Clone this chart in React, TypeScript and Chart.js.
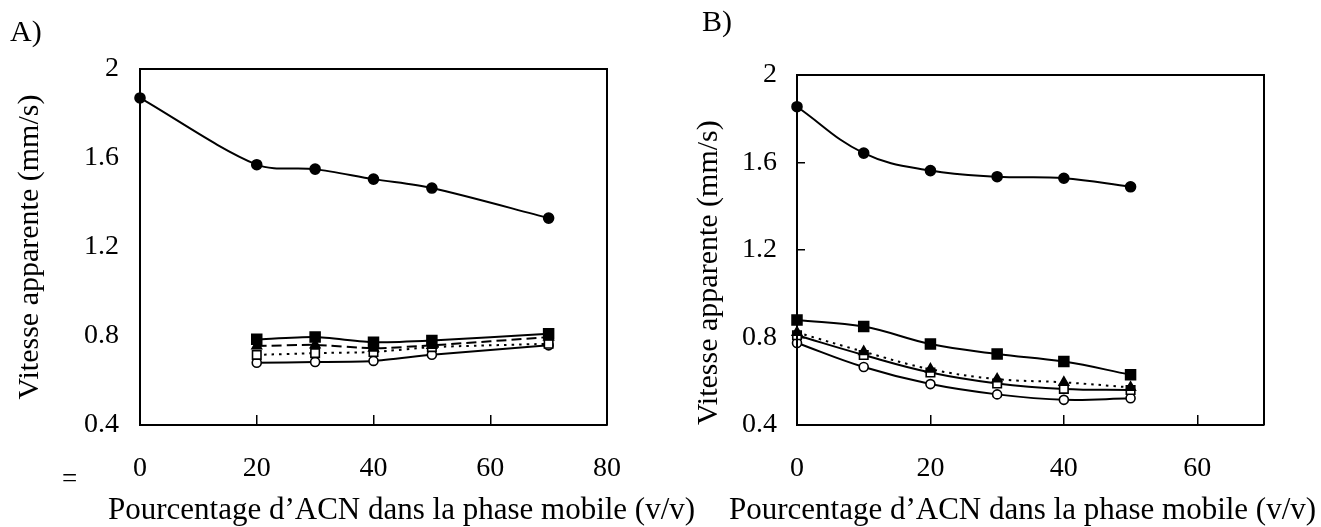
import React, { useEffect, useRef } from 'react';
import { Chart, registerables } from 'chart.js';

Chart.register(...registerables);

const FONT = '"Liberation Serif", "Times New Roman", Times, serif';

// ---------- Panel A data ----------
const xA = [0, 20, 30, 40, 50, 70];
const xALow = [20, 30, 40, 50, 70];
const aFilledCircle = [1.87, 1.57, 1.55, 1.505, 1.465, 1.33];
const aFilledSquare = [0.785, 0.795, 0.772, 0.78, 0.81];
const aFilledTriangle = [0.755, 0.76, 0.745, 0.758, 0.795];
const aOpenSquare = [0.715, 0.723, 0.728, 0.75, 0.765];
const aOpenCircle = [0.68, 0.683, 0.688, 0.716, 0.758];
const xTicksA = [0, 20, 40, 60, 80];
const xTickLabelsA = ['0', '20', '40', '60', '80'];

// ---------- Panel B data ----------
const xB = [0, 10, 20, 30, 40, 50];
const bFilledCircle = [1.855, 1.643, 1.563, 1.535, 1.528, 1.489];
const bFilledSquare = [0.88, 0.85, 0.77, 0.725, 0.69, 0.63];
const bFilledTriangle = [0.823, 0.735, 0.655, 0.61, 0.595, 0.572];
const bOpenSquare = [0.81, 0.72, 0.64, 0.59, 0.565, 0.56];
const bOpenCircle = [0.775, 0.665, 0.587, 0.54, 0.515, 0.522];
const xTicksB = [0, 20, 40, 60];
const xTickLabelsB = ['0', '20', '40', '60'];

// ---------- shared ----------
const yTickValues = [0.4, 0.8, 1.2, 1.6, 2.0];
const yTickLabels = ['0.4', '0.8', '1.2', '1.6', '2'];
const xTitle = 'Pourcentage d’ACN dans la phase mobile (v/v)';
const yTitle = 'Vitesse apparente (mm/s)';

const W = 1321;
const H = 527;

const framePlugin = {
  id: 'frameAndText',
  afterDraw(chart: any, _args: any, opts: any) {
    const { ctx, chartArea } = chart;
    const { left, right, top, bottom } = chartArea;
    ctx.save();
    ctx.strokeStyle = '#000';
    ctx.lineWidth = 2;
    ctx.beginPath();
    ctx.moveTo(left, bottom);
    ctx.lineTo(left, top);
    ctx.lineTo(right, top);
    ctx.lineTo(right, bottom);
    ctx.stroke();
    (opts.texts || []).forEach((t: any) => {
      ctx.font = `${t.size}px ${FONT}`;
      ctx.fillStyle = '#000';
      ctx.textAlign = 'left';
      ctx.textBaseline = 'alphabetic';
      ctx.fillText(t.text, t.x, t.y);
    });
    ctx.restore();
  },
};

function series(xs: number[], ys: number[], style: any) {
  return {
    data: xs.map((x, i) => ({ x, y: ys[i] })),
    borderColor: '#000',
    borderWidth: 2,
    pointBorderColor: '#000',
    pointBorderWidth: 1.6,
    clip: false,
    ...style,
  };
}

const filledCircle = { pointStyle: 'circle', pointRadius: 5, pointBackgroundColor: '#000' };
const filledSquare = { pointStyle: 'rect', pointRadius: 7, pointBackgroundColor: '#000' };
const filledTriangle = { pointStyle: 'triangle', pointRadius: 5.5, pointBackgroundColor: '#000' };
const openSquare = { pointStyle: 'rect', pointRadius: 6, pointBackgroundColor: '#fff' };
const openCircle = { pointStyle: 'circle', pointRadius: 4.5, pointBackgroundColor: '#fff' };

function makeConfig(p: any) {
  return {
    type: 'line',
    data: { datasets: p.datasets },
    plugins: [framePlugin],
    options: {
      animation: false,
      responsive: false,
      devicePixelRatio: 1,
      events: [],
      layout: {
        autoPadding: false,
        padding: { left: p.padLeft, right: W - p.right, top: p.top, bottom: 0 },
      },
      plugins: {
        legend: { display: false },
        tooltip: { enabled: false },
        frameAndText: { texts: p.texts },
      },
      scales: {
        x: {
          type: 'linear',
          min: 0,
          max: p.xMax,
          afterBuildTicks: (scale: any) => {
            scale.ticks = p.xTicks.map((v: number) => ({ value: v }));
          },
          afterFit: (scale: any) => {
            scale.height = H - p.bottom;
          },
          ticks: {
            callback: (_v: any, i: number) => p.xTickLabels[i],
            font: { family: FONT, size: 28 },
            color: '#000',
            padding: 37,
            maxRotation: 0,
            autoSkip: false,
          },
          grid: {
            display: true,
            drawOnChartArea: false,
            drawTicks: true,
            tickLength: -10,
            color: '#000',
            lineWidth: 1.5,
          },
          border: { display: true, color: '#000', width: 2 },
        },
        y: {
          type: 'linear',
          min: 0.4,
          max: 2.0,
          afterBuildTicks: (scale: any) => {
            scale.ticks = yTickValues.map((v) => ({ value: v }));
          },
          afterFit: (scale: any) => {
            scale.width = p.left - p.padLeft;
          },
          ticks: {
            callback: (_v: any, i: number) => yTickLabels[i],
            font: { family: FONT, size: 28 },
            color: '#000',
            padding: p.yTickPad,
            autoSkip: false,
          },
          grid: p.yGrid,
          border: { display: true, color: '#000', width: 2 },
          title: {
            display: true,
            text: yTitle,
            color: '#000',
            font: { family: FONT, size: 30 },
            align: p.yTitleAlign,
            padding: { top: p.yTitlePad, bottom: 0 },
          },
        },
      },
    },
  };
}

const panelA = {
  padLeft: 0,
  left: 140,
  right: 607,
  top: 69,
  bottom: 425,
  xMax: 80,
  xTicks: xTicksA,
  xTickLabels: xTickLabelsA,
  yTickPad: 21,
  yGrid: { display: false, drawTicks: false },
  yTitleAlign: 'center',
  yTitlePad: 12,
  texts: [
    { text: 'A)', x: 10, y: 41, size: 30 },
    { text: '=', x: 62, y: 487, size: 27 },
    { text: xTitle, x: 108, y: 519, size: 31 },
  ],
  datasets: [
    series(xA, aFilledCircle, { ...filledCircle, tension: 0.3 }),
    series(xALow, aFilledSquare, { ...filledSquare, tension: 0.2 }),
    series(xALow, aFilledTriangle, { ...filledTriangle, tension: 0.2, borderDash: [10, 5] }),
    series(xALow, aOpenSquare, { ...openSquare, tension: 0.2, borderDash: [2.5, 5] }),
    series(xALow, aOpenCircle, { ...openCircle, tension: 0.2 }),
  ],
};

const panelB = {
  padLeft: 660,
  left: 797,
  right: 1264,
  top: 75,
  bottom: 425,
  xMax: 70,
  xTicks: xTicksB,
  xTickLabels: xTickLabelsB,
  yTickPad: 28,
  yGrid: {
    display: true,
    drawOnChartArea: false,
    drawTicks: true,
    tickLength: -8,
    color: '#000',
    lineWidth: 1.5,
  },
  yTitleAlign: 'start',
  yTitlePad: 31,
  texts: [
    { text: 'B)', x: 702, y: 31, size: 30 },
    { text: xTitle, x: 729, y: 519, size: 31 },
  ],
  datasets: [
    series(xB, bFilledCircle, { ...filledCircle, tension: 0.4 }),
    series(xB, bFilledSquare, { ...filledSquare, tension: 0.4 }),
    series(xB, bFilledTriangle, { ...filledTriangle, tension: 0.4, borderDash: [2.5, 5] }),
    series(xB, bOpenSquare, { ...openSquare, tension: 0.4 }),
    series(xB, bOpenCircle, { ...openCircle, tension: 0.4 }),
  ],
};

export default function App() {
  const refA = useRef<HTMLCanvasElement | null>(null);
  const refB = useRef<HTMLCanvasElement | null>(null);

  useEffect(() => {
    const charts: Chart[] = [];
    if (refA.current) charts.push(new Chart(refA.current, makeConfig(panelA) as any));
    if (refB.current) charts.push(new Chart(refB.current, makeConfig(panelB) as any));
    return () => charts.forEach((c) => c.destroy());
  }, []);

  return (
    <div style={{ position: 'absolute', left: 0, top: 0, width: W, height: H, background: '#fff', overflow: 'hidden' }}>
      <canvas ref={refA} width={W} height={H} style={{ position: 'absolute', left: 0, top: 0 }} />
      <canvas ref={refB} width={W} height={H} style={{ position: 'absolute', left: 0, top: 0 }} />
    </div>
  );
}
